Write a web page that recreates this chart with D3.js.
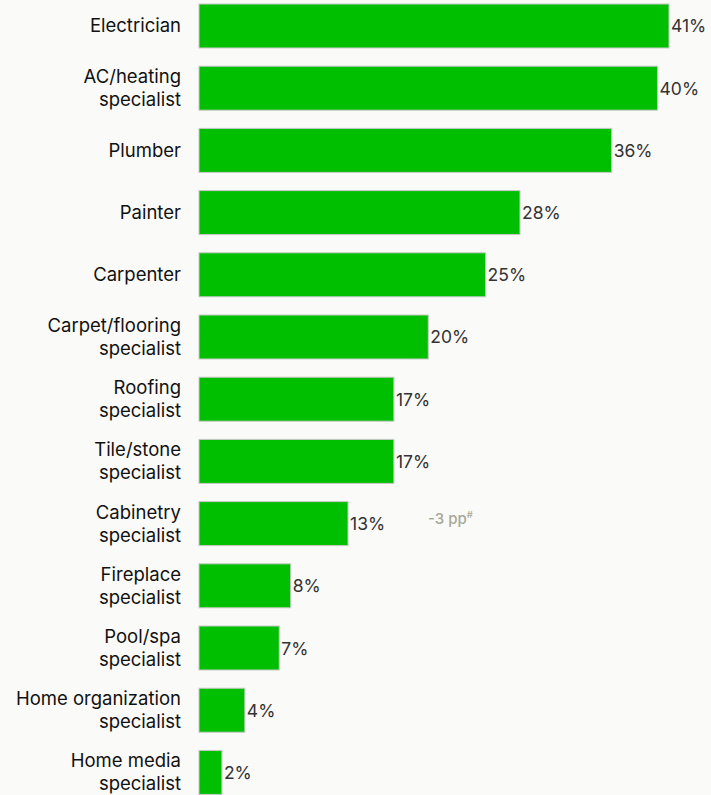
<!DOCTYPE html>
<html>
<head>
<meta charset="utf-8">
<script src="https://cdn.jsdelivr.net/npm/d3@7"></script>
<style>
  html, body { margin: 0; padding: 0; background: #fafaf8; }
  svg { display: block; }
</style>
</head>
<body>
<svg id="chart" width="711" height="795"></svg>
<script>
// Professionals hired, share of respondents (%)
const categories = [
  ["Electrician"],
  ["AC/heating", "specialist"],
  ["Plumber"],
  ["Painter"],
  ["Carpenter"],
  ["Carpet/flooring", "specialist"],
  ["Roofing", "specialist"],
  ["Tile/stone", "specialist"],
  ["Cabinetry", "specialist"],
  ["Fireplace", "specialist"],
  ["Pool/spa", "specialist"],
  ["Home organization", "specialist"],
  ["Home media", "specialist"]
];
const values = [41, 40, 36, 28, 25, 20, 17, 17, 13, 8, 7, 4, 2];
const changeNotes = [null, null, null, null, null, null, null, null, "-3 pp", null, null, null, null];

const svg = d3.select("#chart");
const font = "Inter, 'Noto Sans', sans-serif";
const keys = categories.map(c => c.join(" "));

const x = d3.scaleLinear().domain([0, 41]).range([199, 669]);
const y = d3.scaleBand().domain(keys).range([4, 794.4]).paddingInner(0.293).paddingOuter(0);

const rows = svg.selectAll("g.row")
  .data(keys.map((k, i) => ({ key: k, lines: categories[i], value: values[i], note: changeNotes[i] })))
  .join("g")
  .attr("class", "row");

rows.append("rect")
  .attr("x", x(0))
  .attr("y", d => y(d.key))
  .attr("width", d => x(d.value) - x(0))
  .attr("height", y.bandwidth())
  .attr("fill", "#00bf00")
  .attr("stroke", "#c8c8c8")
  .attr("stroke-width", 1);

// category labels, one or two lines, right-aligned
rows.append("text")
  .attr("x", 181)
  .attr("y", d => y(d.key) + y.bandwidth() / 2)
  .attr("text-anchor", "end")
  .attr("font-family", font)
  .attr("font-size", 18.5)
  .attr("fill", "#111")
  .each(function(d) {
    const t = d3.select(this);
    const lh = 23;
    const off = -(d.lines.length - 1) * lh / 2;
    d.lines.forEach((ln, i) => {
      t.append("tspan")
        .attr("x", 181)
        .attr("dy", i === 0 ? off + 6.5 : lh)
        .text(ln);
    });
  });

// value labels
rows.append("text")
  .attr("x", d => x(d.value) + 2)
  .attr("y", d => y(d.key) + y.bandwidth() / 2 + 6.5)
  .attr("font-family", font)
  .attr("font-size", 17.5)
  .attr("fill", "#333")
  .text(d => d.value + "%");

// change annotation
const notes = rows.filter(d => d.note);
const nt = notes.append("text")
  .attr("x", 428)
  .attr("y", d => y(d.key) + y.bandwidth() / 2)
  .attr("font-family", font)
  .attr("font-size", 15)
  .attr("font-weight", 500)
  .attr("fill", "#a8a898");
nt.append("tspan").text(d => d.note);
nt.append("tspan").attr("font-size", 9.5).attr("dy", -6).text("#");
</script>
</body>
</html>
